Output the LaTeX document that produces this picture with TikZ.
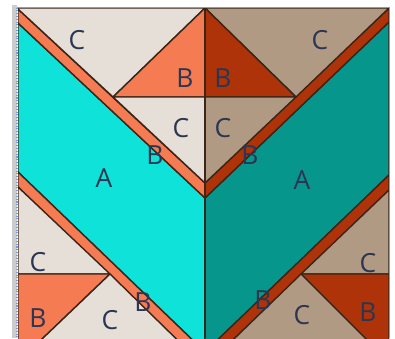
\documentclass[tikz,border=0pt]{standalone}
\usepackage{fontspec}
\setmainfont{Open Sans}
\usepackage{tikz}
\usepackage{xcolor}
\definecolor{quiltcream}{HTML}{E6DFD8}
\definecolor{quiltcoral}{HTML}{F57B52}
\definecolor{quiltcyan}{HTML}{0EE2D9}
\definecolor{quiltteal}{HTML}{07968B}
\definecolor{quilttan}{HTML}{B09A83}
\definecolor{quiltrust}{HTML}{AE3309}
\definecolor{quiltink}{HTML}{2B3652}
\definecolor{quiltedge}{HTML}{3B2418}
\definecolor{quiltframe}{HTML}{7C9BE6}

\begin{document}
\begin{tikzpicture}[x=0.02cm, y=-0.02cm,
  patch/.style={draw=quiltedge, line width=0.8pt, line join=round},
  lbl/.style={text=quiltink, font=\fontsize{15}{17}\selectfont, inner sep=0pt}]
\useasboundingbox (0,0) rectangle (395,338);
\fill[white] (0,0) rectangle (395,338);
\fill[black!20] (12,5) rectangle (17,338);
\begin{scope}
\clip (18,8) rectangle (389,338);
% left half
\filldraw[patch, fill=quiltcyan] (18,23) -- (205,198) -- (205,352) -- (18,172) -- cycle;
\filldraw[patch, fill=quiltcoral] (18,9) -- (205,183) -- (205,198) -- (18,23) -- cycle;
\filldraw[patch, fill=quiltcream] (18,8) -- (205,8) -- (113,97) -- (18,9) -- cycle;
\filldraw[patch, fill=quiltcoral] (113,97) -- (205,8) -- (205,97) -- cycle;
\filldraw[patch, fill=quiltcream] (113,97) -- (205,97) -- (205,183) -- cycle;
\filldraw[patch, fill=quiltcoral] (18,172) -- (205,352) -- (205,367) -- (18,187) -- cycle;
\filldraw[patch, fill=quiltcream] (18,187) -- (110,274) -- (18,274) -- cycle;
\filldraw[patch, fill=quiltcoral] (18,274) -- (110,274) -- (18,362) -- cycle;
\filldraw[patch, fill=quiltcream] (110,274) -- (205,367) -- (205,372) -- (18,372) -- (18,362) -- cycle;
% right half
\filldraw[patch, fill=quiltteal] (389,22) -- (205,198) -- (205,352) -- (389,175) -- cycle;
\filldraw[patch, fill=quiltrust] (389,8) -- (205,183) -- (205,198) -- (389,22) -- cycle;
\filldraw[patch, fill=quilttan] (205,8) -- (389,8) -- (296,97) -- cycle;
\filldraw[patch, fill=quiltrust] (205,8) -- (296,97) -- (205,97) -- cycle;
\filldraw[patch, fill=quilttan] (205,97) -- (296,97) -- (205,183) -- cycle;
\filldraw[patch, fill=quiltrust] (389,175) -- (205,352) -- (205,367) -- (389,190) -- cycle;
\filldraw[patch, fill=quilttan] (389,190) -- (389,274) -- (301,274) -- cycle;
\filldraw[patch, fill=quiltrust] (301,274) -- (389,274) -- (389,362) -- cycle;
\filldraw[patch, fill=quilttan] (301,274) -- (389,362) -- (389,372) -- (205,372) -- (205,367) -- cycle;
\draw[patch] (205,8) -- (205,338);
\end{scope}
% frame
\draw[quiltframe, line width=0.6pt] (17,7.5) -- (389.5,7.5) -- (389.5,338);
\draw[quiltframe, line width=0.6pt, densely dotted] (17,7.5) -- (17,338);
% labels
\node[lbl] (ctl) at (77,40) {C};
\node[lbl] (btl) at (185,78) {B};
\node[lbl] (cml) at (181,128) {C};
\node[lbl] (bsl) at (155,155) {B};
\node[lbl] (al) at (104,178) {A};
\node[lbl] (btr) at (223,78) {B};
\node[lbl] (ctr) at (320,40) {C};
\node[lbl] (cmr) at (223,128) {C};
\node[lbl] (bsr) at (250,155) {B};
\node[lbl] (ar) at (302,180) {A};
\node[lbl] (cbl) at (38,262) {C};
\node[lbl] (bbl) at (38,318) {B};
\node[lbl] (cbm) at (110,320) {C};
\node[lbl] (bsl2) at (143,302) {B};
\node[lbl] (cbr) at (368,263) {C};
\node[lbl] (bbr) at (368,312) {B};
\node[lbl] (cbr2) at (302,315) {C};
\node[lbl] (bsr2) at (263,300) {B};
\end{tikzpicture}
\end{document}
